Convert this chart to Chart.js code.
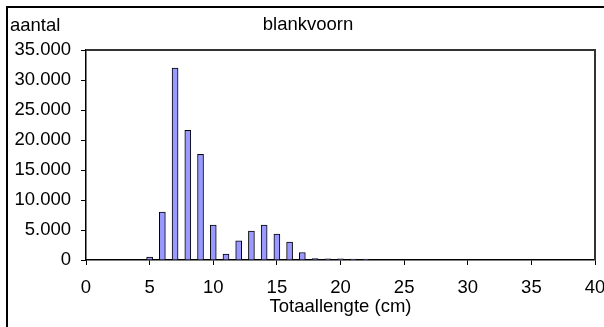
<!DOCTYPE html>
<html>
<head>
<meta charset="utf-8">
<title>blankvoorn</title>
<script src="https://cdn.jsdelivr.net/npm/chart.js@4/dist/chart.umd.min.js"></script>
<style>
  html, body { margin: 0; padding: 0; background: #fff; }
  canvas { display: block; }
</style>
</head>
<body>
<canvas id="chart-lengte" width="604" height="327"></canvas>
<script>
// Lengte-frequentie blankvoorn: aantal vissen per lengteklasse (cm)

const CHART_TITLE = "blankvoorn";
const Y_LABEL     = "aantal";
const X_LABEL     = "Totaallengte (cm)";

const lengthClasses = [5, 6, 7, 8, 9, 10, 11, 12, 13, 14, 15, 16, 17, 18, 19, 20, 21, 22];
const fishCounts    = [500, 8000, 32000, 21600, 17600, 5800, 1000, 3200, 4800, 5800, 4300, 3000, 1250, 250, 200, 200, 150, 150];

const X_MIN = 0,  X_MAX = 40,    X_STEP = 5;
const Y_MIN = 0,  Y_MAX = 35000, Y_STEP = 5000;

const FONT_FAMILY = "'Liberation Sans', Arial, sans-serif";
const FONT_SIZE   = 18.5;

Chart.defaults.font.family = FONT_FAMILY;
Chart.defaults.font.size   = FONT_SIZE;
Chart.defaults.color       = "#000";

// 35000 -> "35.000"
const dutchThousands = v => String(v).replace(/\B(?=(\d{3})+(?!\d))/g, ".");

// Outer chart border, plot frame (top/right) and the two header texts
const excelFrame = {
  id: "excelFrame",
  beforeDraw(chart) {
    const c = chart.ctx;
    c.save();
    c.fillStyle = "#fff";
    c.fillRect(0, 0, chart.width, chart.height);
    c.strokeStyle = "#000";
    c.lineWidth = 2;
    c.strokeRect(7, 7, chart.width + 20, chart.height + 20);
    c.restore();
  },
  afterDraw(chart) {
    const { ctx: c, chartArea: a } = chart;
    c.save();
    c.strokeStyle = "#333";
    c.lineWidth = 2;
    c.beginPath();
    c.moveTo(a.left, a.top);
    c.lineTo(a.right, a.top);
    c.lineTo(a.right, a.bottom);
    c.stroke();

    c.fillStyle = "#000";
    c.font = `${FONT_SIZE}px ${FONT_FAMILY}`;
    c.textBaseline = "alphabetic";
    c.textAlign = "left";
    c.fillText(Y_LABEL, 10, 31);
    c.textAlign = "center";
    c.fillText(CHART_TITLE, 308, 30);
    c.restore();
  },
};

const ctx = document.getElementById("chart-lengte").getContext("2d");

new Chart(ctx, {
  type: "bar",
  data: {
    datasets: [{
      label: Y_LABEL,
      data: lengthClasses.map((len, i) => ({ x: len, y: fishCounts[i] })),
      backgroundColor: "#9999FF",
      borderColor: "#000",
      borderWidth: 1,
      barThickness: 6,
    }],
  },
  options: {
    responsive: false,
    animation: false,
    layout: { padding: { top: 50, right: 9, bottom: 0, left: 0 } },
    plugins: {
      legend: { display: false },
      tooltip: { enabled: false },
      title: { display: false },
    },
    scales: {
      x: {
        type: "linear",
        min: X_MIN,
        max: X_MAX,
        offset: false,
        // fixed axis height; let the "40" label run off the edge
        afterFit: s => { s.height = 67; s.paddingLeft = 0; s.paddingRight = 0; },
        grid: { offset: false, drawOnChartArea: false, drawTicks: true, tickLength: 5, color: "#000", lineWidth: 1 },
        border: { display: true, color: "#000", width: 1.5 },
        ticks: { stepSize: X_STEP, padding: 12, maxRotation: 0, autoSkip: false },
        title: { display: true, text: X_LABEL, padding: { top: 0, bottom: 9 } },
      },
      y: {
        min: Y_MIN,
        max: Y_MAX,
        afterFit: s => { s.width = 86; },
        grid: { drawOnChartArea: false, drawTicks: true, tickLength: 5, color: "#000", lineWidth: 1 },
        border: { display: true, color: "#000", width: 1.5 },
        ticks: { stepSize: Y_STEP, padding: 10, callback: v => dutchThousands(v) },
      },
    },
  },
  plugins: [excelFrame],
});
</script>
</body>
</html>
